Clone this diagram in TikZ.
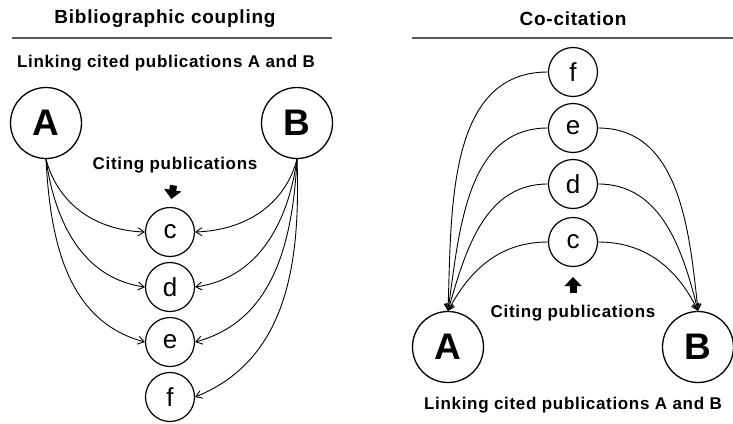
\documentclass[tikz,border=0pt]{standalone}
\usepackage{fontspec}
\setmainfont{Liberation Sans}
\newfontfamily\widefont[LetterSpace=4]{Liberation Sans}
\usetikzlibrary{arrows.meta}
\begin{document}
\begin{tikzpicture}[x=1pt,y=-1pt,
  big/.style={circle,draw,line width=1.3pt,minimum size=71pt,inner sep=0pt,font=\fontsize{37}{37}\selectfont\bfseries},
  small/.style={circle,draw,line width=1.2pt,minimum size=49pt,inner sep=0pt,font=\fontsize{26}{26}\selectfont},
  ttl/.style={font=\widefont\fontsize{19}{19}\selectfont\bfseries},
  lbl/.style={font=\widefont\fontsize{17}{17}\selectfont\bfseries},
  link/.style={line width=0.9pt,-{Straight Barb[length=6pt,width=8pt]}},
  fat/.style={line width=7pt,-{Triangle[length=9pt,width=17pt]}}
]
\useasboundingbox (0,0) rectangle (733,423);
% ---------- left panel ----------
\node[ttl] (t1) at (165,19) {Bibliographic coupling};
\coordinate (l1a) at (12,38); \coordinate (l1b) at (332,38);
\draw[line width=1.1pt,gray!70!black] (l1a) -- (l1b);
\node[lbl] (s1) at (166,63) {Linking cited publications A and B};
\node[big] (A1) at (46,123) {A};
\node[big] (B1) at (297,123) {B};
\node[lbl] (cp1) at (175,165) {Citing publications};
\node[small] (c1) at (170,232) {c};
\node[small] (d1) at (170,287) {d};
\node[small] (e1) at (170,342) {e};
\node[small] (f1) at (170,397) {f};
\draw[fat,shorten <=9pt,shorten >=8pt] (cp1.south) -- (c1.north);
\draw[link] (A1.south) to[out=-75,in=178] (c1.west);
\draw[link] (A1.south) to[out=-82,in=172] (d1.west);
\draw[link] (A1.south) to[out=-87,in=165] (e1.west);
\draw[link] (B1.south) to[out=-105,in=2] (c1.east);
\draw[link] (B1.south) to[out=-98,in=8] (d1.east);
\draw[link] (B1.south) to[out=-93,in=15] (e1.east);
\draw[link] (B1.south) to[out=-88,in=22] (f1.east);
% ---------- right panel ----------
\node[ttl] (t2) at (573,19) {Co-citation};
\coordinate (l2a) at (412,38); \coordinate (l2b) at (733,38);
\draw[line width=1.1pt,gray!70!black] (l2a) -- (l2b);
\node[small] (f2) at (573,72) {f};
\node[small] (e2) at (573,128) {e};
\node[small] (d2) at (573,184) {d};
\node[small] (c2) at (573,242) {c};
\node[lbl] (cp2) at (573,313) {Citing publications};
\draw[fat,shorten <=9pt,shorten >=10pt] (cp2.north) -- (c2.south);
\node[big] (A2) at (448,347) {A};
\node[big] (B2) at (698,347) {B};
\node[lbl] (s2) at (573,405) {Linking cited publications A and B};
\draw[link] (f2.west) to[out=180,in=88] (A2.north);
\draw[link] (e2.west) to[out=180,in=82] (A2.north);
\draw[link] (d2.west) to[out=180,in=74] (A2.north);
\draw[link] (c2.west) to[out=180,in=62] (A2.north);
\draw[link] (e2.east) to[out=0,in=96] (B2.north);
\draw[link] (d2.east) to[out=0,in=104] (B2.north);
\draw[link] (c2.east) to[out=0,in=116] (B2.north);
\end{tikzpicture}
\end{document}
